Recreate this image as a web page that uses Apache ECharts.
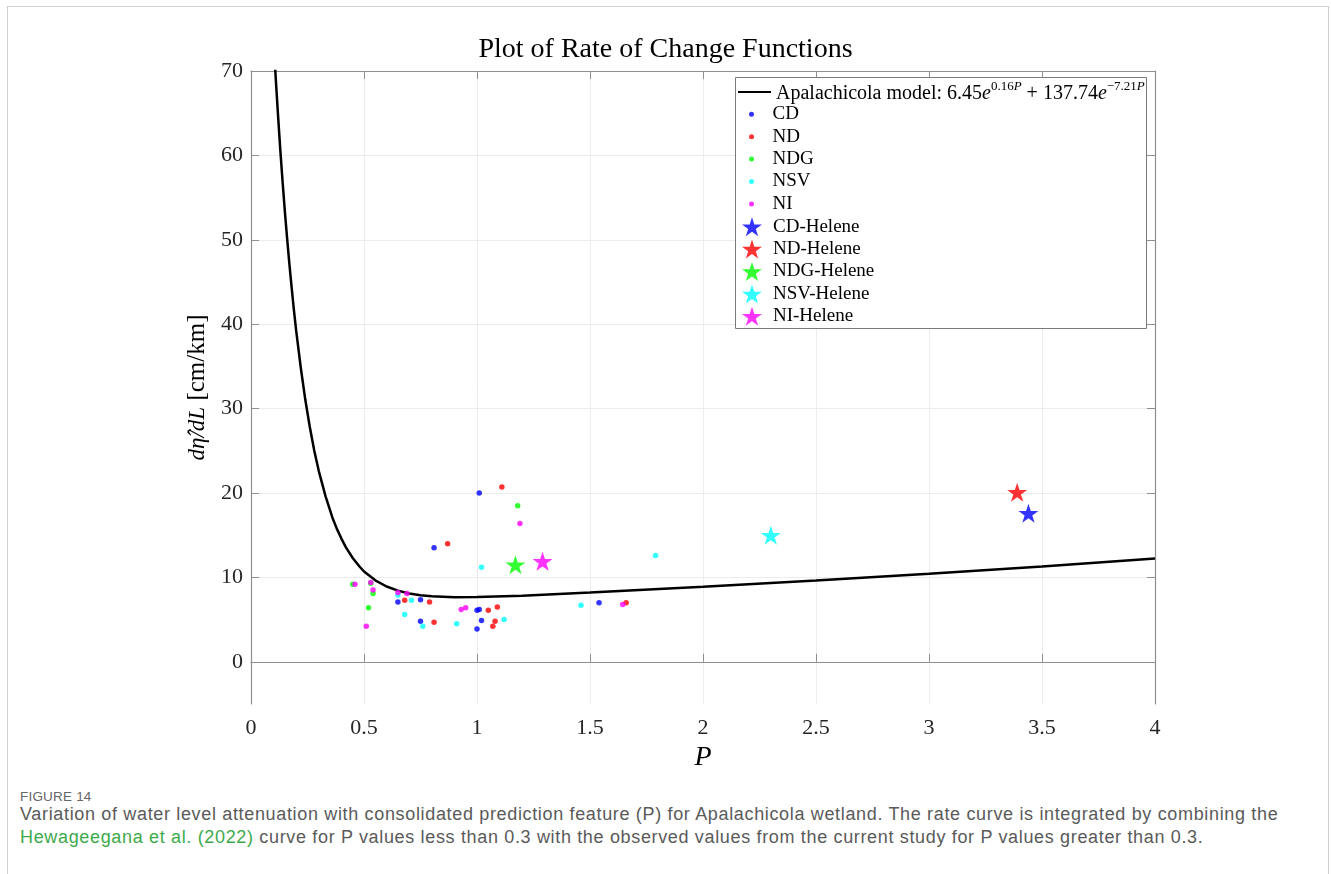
<!DOCTYPE html>
<html>
<head>
<meta charset="utf-8">
<script src="https://cdn.jsdelivr.net/npm/echarts@6.0.0/dist/echarts.min.js"></script>
<style>
  html, body { margin:0; padding:0; background:#fff; }
  .card {
    position:absolute; left:7px; top:6px; width:1322px; height:900px;
    border:1px solid #cfcfcf; border-bottom:none; box-sizing:border-box;
  }
  #chart { position:absolute; left:0; top:0; width:1331px; height:780px; }
  .figno {
    position:absolute; left:20px; top:789px;
    font-family:"Liberation Sans",sans-serif;
    font-size:13.5px; color:#666; letter-spacing:0.2px;
  }
  .caption {
    position:absolute; left:20px; top:803px; width:1310px;
    font-family:"Liberation Sans",sans-serif;
    font-size:18px; line-height:23px; color:#5a5a5a; letter-spacing:0.66px;
    white-space:nowrap;
  }
  .caption a { color:#3daa4c; text-decoration:none; }
</style>
</head>
<body>
<div class="card"></div>
<div id="chart"></div>
<div class="figno">FIGURE 14</div>
<div class="caption">Variation of water level attenuation with consolidated prediction feature (P) for Apalachicola wetland. The rate curve is integrated by combining the<br><a>Hewageegana et al. (2022)</a> curve for P values less than 0.3 with the observed values from the current study for P values greater than 0.3.</div>
<script>
// model curve [P, rate]
var curvePts = [
  [0.10,73.5],[0.11,68.9],[0.12,64.6],[0.13,60.5],[0.14,56.8],[0.15,53.3],[0.16,50.1],
  [0.17,47.1],[0.18,44.3],[0.19,41.65],[0.20,39.2],[0.22,34.9],[0.24,31.1],[0.26,27.85],
  [0.28,25.0],[0.30,22.6],[0.33,19.6],[0.36,17.1],[0.38,15.75],[0.40,14.6],[0.42,13.56],
  [0.45,12.3],[0.48,11.29],[0.50,10.7],[0.55,9.65],[0.60,8.92],[0.65,8.43],[0.70,8.10],
  [0.75,7.89],[0.80,7.76],[0.90,7.66],[1.00,7.67],[1.20,7.84],[1.50,8.20],[2.00,8.88],
  [2.50,9.62],[3.00,10.42],[3.50,11.29],[4.00,12.23]
];
var cdPts  = [[1.01,20.0],[0.81,13.5],[0.65,7.1],[0.75,7.35],[0.75,4.8],[1.0,6.1],[1.01,6.2],[1.02,4.9],[1.0,3.9],[1.54,7.0]];
var ndPts  = [[1.11,20.7],[0.87,14.0],[0.68,7.3],[0.79,7.1],[0.81,4.7],[1.05,6.1],[1.09,6.5],[1.08,4.8],[1.07,4.2],[1.66,7.0]];
var ndgPts = [[1.18,18.5],[0.45,9.2],[0.53,9.3],[0.54,8.1],[0.52,6.4]];
var nsvPts = [[1.02,11.2],[0.65,7.9],[0.71,7.3],[0.68,5.6],[0.76,4.2],[0.91,4.5],[1.12,5.0],[1.46,6.7],[1.79,12.6]];
var niPts  = [[1.19,16.4],[0.46,9.2],[0.53,9.4],[0.54,8.5],[0.51,4.2],[0.65,8.2],[0.69,8.1],[0.93,6.2],[0.95,6.4],[1.645,6.8]];
var heleneNames = ['CD-Helene','ND-Helene','NDG-Helene','NSV-Helene','NI-Helene'];
var helenePts = [[3.44,17.6],[3.39,20.1],[1.17,11.5],[2.30,15.0],[1.29,11.9]];
var dotNames = ['CD','ND','NDG','NSV','NI'];
var colors = ['#0000ff','#ff0000','#00ff00','#00ffff','#ff00ff'];
var yTicks = [0,10,20,30,40,50,60,70];
var modelName = 'Apalachicola model';

var serif = '"Liberation Serif","DejaVu Serif",serif';
var star = 'path://M100,0 L122.45,69.1 L195.11,69.1 L136.33,111.8 L158.78,180.9 L100,138.2 L41.22,180.9 L63.67,111.8 L4.89,69.1 L77.55,69.1 Z';

var chart = echarts.init(document.getElementById('chart'));

var series = [{
  name: modelName,
  type: 'line',
  data: curvePts,
  showSymbol: false,
  symbol: 'none',
  smooth: false,
  lineStyle: { color:'#000', width:2.5 },
  itemStyle: { color:'#000' },
  z: 3
}];
var dotData = [cdPts, ndPts, ndgPts, nsvPts, niPts];
dotNames.forEach(function(n, i){
  series.push({
    name: n, type:'scatter', data: dotData[i],
    symbol:'circle', symbolSize:5.5,
    itemStyle:{ color: colors[i] }, z: 4
  });
});
heleneNames.forEach(function(n, i){
  series.push({
    name: n, type:'scatter', data: [helenePts[i]],
    symbol: star, symbolSize:20, symbolKeepAspect:true,
    itemStyle:{ color: colors[i] }, z: 5
  });
});

var legText = { fontFamily: serif, fontSize:19, color:'#000', lineHeight:22 };

var option = {
  animation: false,
  title: {
    text: 'Plot of Rate of Change Functions',
    left: 'center', top: 31,
    textStyle: { fontFamily: serif, fontSize: 28, fontWeight: 'normal', color:'#000' }
  },
  grid: { left:251, top:71, width:904, height:633 },
  graphic: [{
    type:'rect', left:735, top:77, z:10,
    shape:{ width:411, height:251 },
    style:{ fill:'#fff', stroke:'#7a7a7a', lineWidth:1 }
  }],
  legend: [{
    data:[{ name: modelName, icon:'rect' }], orient:'vertical', left:738, top:80, padding:0,
    itemWidth:33, itemHeight:2, itemGap:0, z:11,
    formatter: function(){
      return '{n|Apalachicola model: 6.45}{i|e}{s|0.16}{si|P}{n| + 137.74}{i|e}{s|\u22127.21}{si|P}';
    },
    textStyle: {
      fontFamily: serif, fontSize:20, color:'#000', lineHeight:24,
      rich: {
        n:{ fontFamily: serif, fontSize:20, lineHeight:24, verticalAlign:'bottom' },
        i:{ fontFamily: serif, fontSize:20, lineHeight:24, fontStyle:'italic', verticalAlign:'bottom' },
        s:{ fontFamily: serif, fontSize:13, lineHeight:17, verticalAlign:'top' },
        si:{ fontFamily: serif, fontSize:13, lineHeight:17, fontStyle:'italic', verticalAlign:'top' }
      }
    }
  }, {
    data: dotNames, orient:'vertical', left:749, top:103.3, padding:0,
    itemWidth:32, itemHeight:5, itemGap:0.4, z:11,
    textStyle: legText
  }, {
    data: heleneNames, orient:'vertical', left:742, top:215.7, padding:0,
    itemWidth:32, itemHeight:19, itemGap:0.4, z:11,
    textStyle: legText
  }],
  xAxis: [{
    type:'value', min:0, max:4, interval:0.5,
    name:'P', nameLocation:'middle', nameGap:32,
    nameTextStyle:{ fontFamily: serif, fontSize:28, fontStyle:'italic', color:'#000' },
    axisLine:{ show:true, lineStyle:{ color:'#8f8f8f', width:1.2 } },
    axisTick:{ show:true, inside:true, length:8, lineStyle:{ color:'#8f8f8f' } },
    axisLabel:{ fontFamily: serif, fontSize:22, color:'#262626', margin:13 },
    splitLine:{ show:true, lineStyle:{ color:'#ececec' } }
  }, {
    type:'value', position:'top', min:0, max:4, interval:0.5,
    axisLine:{ show:true, onZero:false, lineStyle:{ color:'#8f8f8f', width:1.2 } },
    axisTick:{ show:true, inside:true, length:8, lineStyle:{ color:'#8f8f8f' } },
    axisLabel:{ show:false }, splitLine:{ show:false }
  }],
  yAxis: [{
    type:'value', min:-5, max:70,
    name:'{f|d\u03B7\u0302/dL} [cm/km]', nameLocation:'middle', nameGap:36, nameRotate:90,
    nameTextStyle:{ fontFamily: serif, fontSize:25, color:'#000',
      rich:{ f:{ fontFamily: serif, fontSize:23, fontStyle:'italic', color:'#000' } } },
    axisLine:{ show:true, onZero:false, lineStyle:{ color:'#8f8f8f', width:1.2 } },
    axisTick:{ show:true, inside:true, length:8, customValues: yTicks, lineStyle:{ color:'#8f8f8f' } },
    axisLabel:{ fontFamily: serif, fontSize:22, color:'#262626', margin:8, customValues: yTicks },
    splitLine:{ show:true, lineStyle:{ color:'#ececec' } }
  }, {
    type:'value', position:'right', min:-5, max:70,
    axisLine:{ show:true, onZero:false, lineStyle:{ color:'#8f8f8f', width:1.2 } },
    axisTick:{ show:true, inside:true, length:8, customValues: yTicks, lineStyle:{ color:'#8f8f8f' } },
    axisLabel:{ show:false }, splitLine:{ show:false }
  }],
  series: series
};
chart.setOption(option);
</script>
</body>
</html>
